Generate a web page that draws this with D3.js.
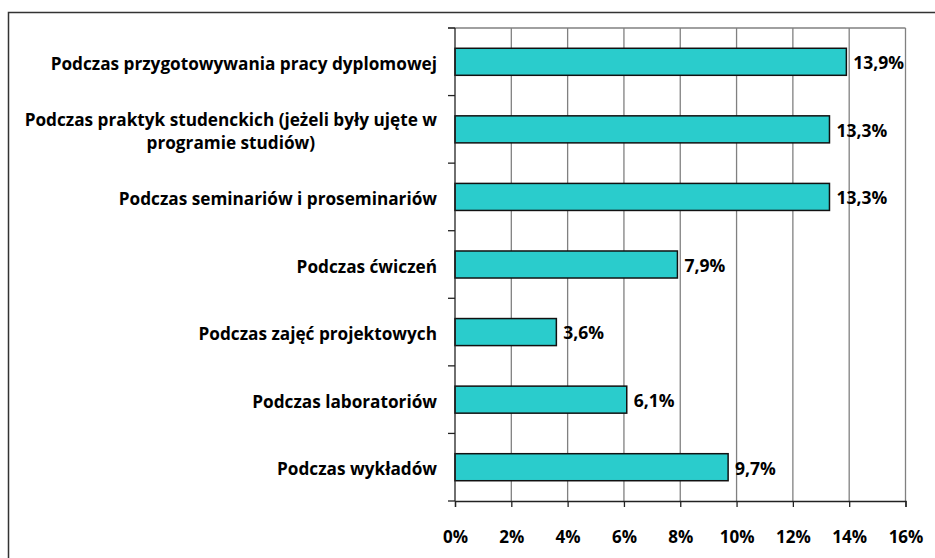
<!DOCTYPE html>
<html><head><meta charset="utf-8">
<script src="https://cdn.jsdelivr.net/npm/d3@7"></script>
<style>body{margin:0;background:#fff}svg{display:block}text{font-family:"Open Sans",Lato,sans-serif;font-weight:700;fill:#000}</style>
</head><body>
<script>
const categories = [
  ["Podczas przygotowywania pracy dyplomowej"],
  ["Podczas praktyk studenckich (jeżeli były ujęte w", "programie studiów)"],
  ["Podczas seminariów i proseminariów"],
  ["Podczas ćwiczeń"],
  ["Podczas zajęć projektowych"],
  ["Podczas laboratoriów"],
  ["Podczas wykładów"]
];
const values = [13.9, 13.3, 13.3, 7.9, 3.6, 6.1, 9.7];
const valueLabels = ["13,9%", "13,3%", "13,3%", "7,9%", "3,6%", "6,1%", "9,7%"];
const xTicks = [0, 2, 4, 6, 8, 10, 12, 14, 16];

const W = 935, H = 558;
const svg = d3.select("body").append("svg").attr("width", W).attr("height", H);

// outer frame (left + top)
svg.append("path").attr("d", `M8.5,${H} V12.5 H${W}`).attr("fill","none").attr("stroke","#333").attr("stroke-width",1.5);

const x = d3.scaleLinear().domain([0, 16]).range([455, 905.5]);
const ids = categories.map((c, i) => i);
const y = d3.scaleBand().domain(ids).range([28, 501]).paddingInner(0.6).paddingOuter(0.3);

// gridlines
svg.append("g").selectAll("line").data(xTicks.slice(1)).join("line")
  .attr("x1", d => x(d)).attr("x2", d => x(d)).attr("y1", 28).attr("y2", 501)
  .attr("stroke", "#808080").attr("stroke-width", 1.3);
// top border
svg.append("line").attr("x1", 448).attr("x2", x(16)).attr("y1", 28).attr("y2", 28)
  .attr("stroke", "#808080").attr("stroke-width", 1.3);

// bars
svg.append("g").selectAll("rect").data(values).join("rect")
  .attr("x", x(0)).attr("y", (d, i) => y(i))
  .attr("width", d => x(d) - x(0)).attr("height", y.bandwidth())
  .attr("fill", "#2ACCCC").attr("stroke", "#111").attr("stroke-width", 1.5);

// value labels
svg.append("g").selectAll("text").data(values).join("text")
  .attr("x", d => x(d) + 7).attr("y", (d, i) => y(i) + y.bandwidth() / 2 + 1)
  .attr("dy", "0.36em").attr("font-size", 17.5).text((d, i) => valueLabels[i]);

// left axis
const step = y.step();
const boundaries = d3.range(8).map(k => 28 + k * step);
svg.append("line").attr("x1", x(0)).attr("x2", x(0)).attr("y1", 28).attr("y2", 501)
  .attr("stroke", "#222").attr("stroke-width", 1.3);
svg.append("g").selectAll("line").data(boundaries).join("line")
  .attr("x1", 448).attr("x2", x(0)).attr("y1", d => d).attr("y2", d => d)
  .attr("stroke", "#222").attr("stroke-width", 1.3);

// bottom axis
const xAxis = d3.axisBottom(x).tickValues(xTicks).tickSize(6).tickPadding(24).tickFormat(d => d + "%");
const gx = svg.append("g").attr("transform", "translate(0,501)").call(xAxis);
gx.select(".domain").attr("stroke", "#222").attr("stroke-width", 1.3);
gx.selectAll(".tick line").attr("stroke", "#222").attr("stroke-width", 1.3);
gx.selectAll(".tick text").attr("font-size", 17).attr("font-family", null).attr("fill", "#000");

// category labels
const lab = svg.append("g");
categories.forEach((lines, i) => {
  const cy = y(i) + y.bandwidth() / 2;
  const lh = 23;
  const g = lab.append("g");
  const ts = lines.map((l, j) => g.append("text").attr("font-size", 17.2)
    .attr("y", cy + (j - (lines.length - 1) / 2) * lh + 2).attr("dy", "0.36em").text(l));
  const maxW = d3.max(ts, t => t.node().getComputedTextLength());
  ts.forEach(t => t.attr("text-anchor", "middle").attr("x", 437 - maxW / 2));
});
</script>
</body></html>
